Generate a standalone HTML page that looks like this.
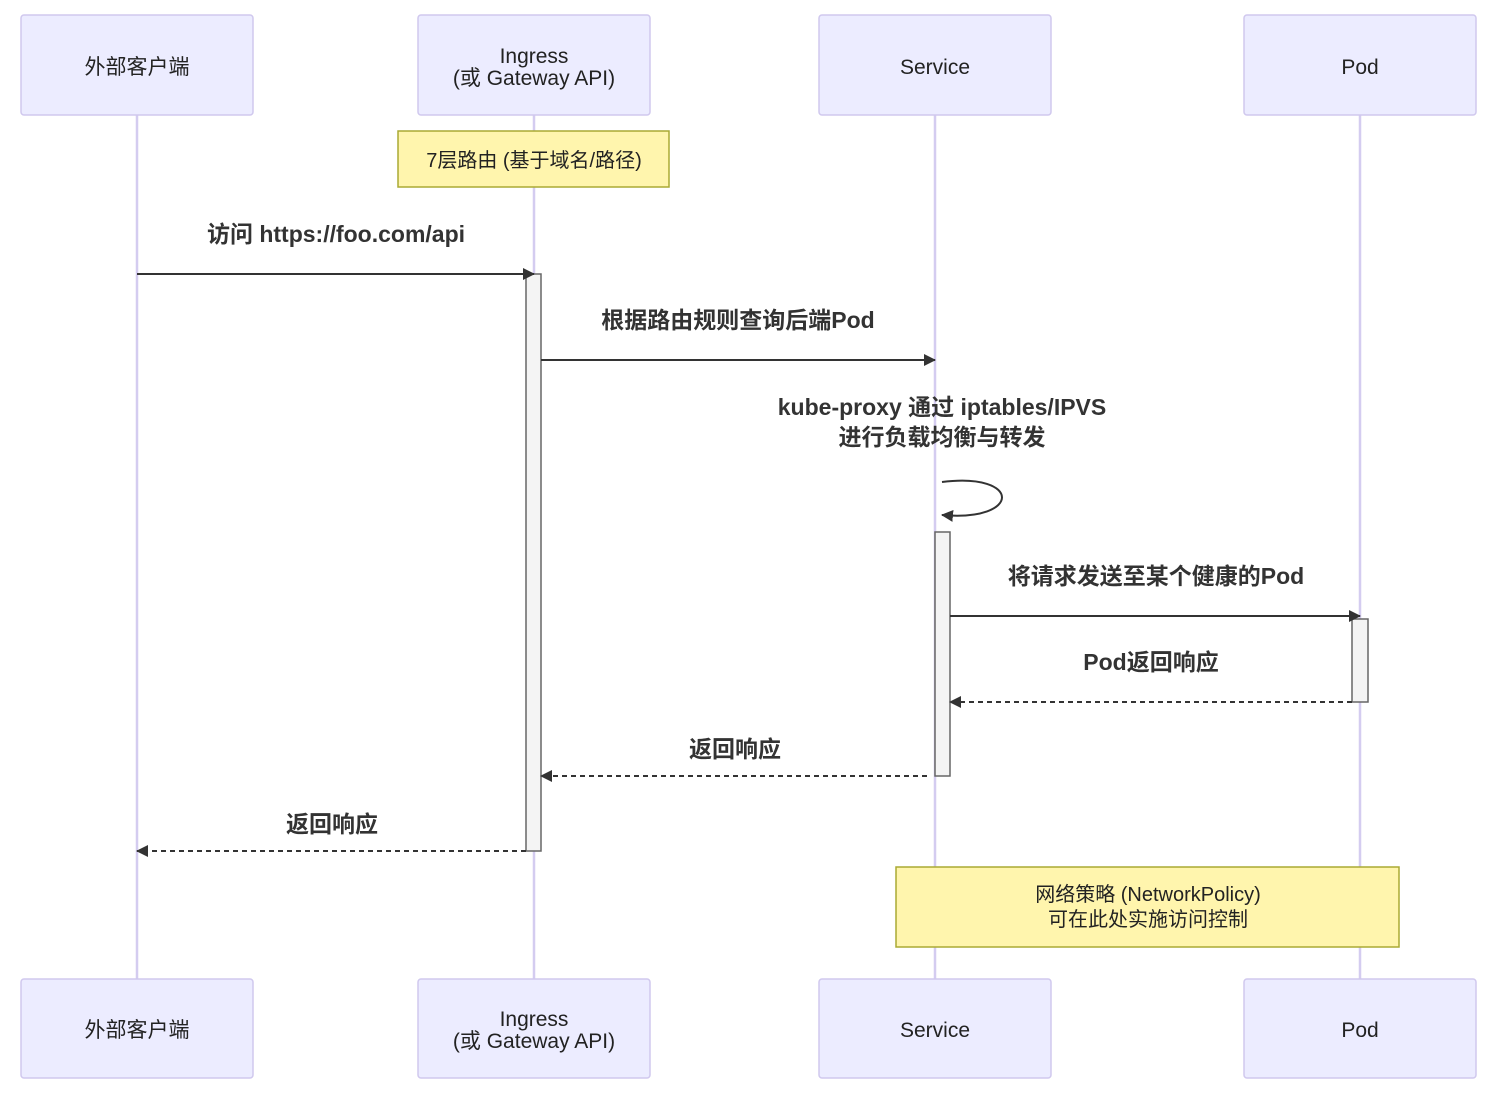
<!DOCTYPE html>
<html><head><meta charset="utf-8"><style>
html,body{margin:0;padding:0;background:#fff;}
svg text{font-family:"Liberation Sans","Noto Sans CJK SC",sans-serif;}
</style></head><body>
<svg width="1498" height="1094" viewBox="0 0 1498 1094" xmlns="http://www.w3.org/2000/svg">
<defs>
<marker id="ah" markerWidth="12" markerHeight="12" refX="11" refY="6" orient="auto" markerUnits="userSpaceOnUse">
<path d="M0,0 L12,6 L0,12 z" fill="#333"/>
</marker>
</defs>
<g stroke="#d4ccf0" stroke-width="2.5">
<line x1="137" y1="115" x2="137" y2="979"/>
<line x1="534" y1="115" x2="534" y2="979"/>
<line x1="935" y1="115" x2="935" y2="979"/>
<line x1="1360" y1="115" x2="1360" y2="979"/>
</g>
<g fill="#ececff" stroke="#d0c8ee" stroke-width="1.5">
<rect x="21" y="15" width="232" height="100" rx="3"/>
<rect x="418" y="15" width="232" height="100" rx="3"/>
<rect x="819" y="15" width="232" height="100" rx="3"/>
<rect x="1244" y="15" width="232" height="100" rx="3"/>
<rect x="21" y="979" width="232" height="99" rx="3"/>
<rect x="418" y="979" width="232" height="99" rx="3"/>
<rect x="819" y="979" width="232" height="99" rx="3"/>
<rect x="1244" y="979" width="232" height="99" rx="3"/>
</g>
<g font-size="21" fill="#222" text-anchor="middle">
<text x="137" y="74">外部客户端</text>
<text x="534" y="63">Ingress</text>
<text x="534" y="85">(或 Gateway API)</text>
<text x="935" y="74">Service</text>
<text x="1360" y="74">Pod</text>
<text x="137" y="1037">外部客户端</text>
<text x="534" y="1026">Ingress</text>
<text x="534" y="1048">(或 Gateway API)</text>
<text x="935" y="1037">Service</text>
<text x="1360" y="1037">Pod</text>
</g>
<rect x="398" y="131" width="271" height="56" fill="#fff5ad" stroke="#aaaa33" stroke-width="1.5"/>
<text x="534" y="167" font-size="20" text-anchor="middle" fill="#222">7层路由 (基于域名/路径)</text>
<g fill="#f4f4f4" stroke="#666" stroke-width="1.5">
<rect x="526" y="274" width="15" height="577"/>
<rect x="935" y="532" width="15" height="244"/>
<rect x="1352" y="619" width="16" height="83"/>
</g>
<g font-size="23" font-weight="bold" fill="#333" text-anchor="middle">
<text x="336" y="242">访问 https://foo.com/api</text>
<text x="738" y="328">根据路由规则查询后端Pod</text>
<text x="942" y="415">kube-proxy 通过 iptables/IPVS</text>
<text x="942" y="445">进行负载均衡与转发</text>
<text x="1156" y="584">将请求发送至某个健康的Pod</text>
<text x="1151" y="670">Pod返回响应</text>
<text x="735" y="757">返回响应</text>
<text x="332" y="832">返回响应</text>
</g>
<g stroke="#333" stroke-width="2" fill="none">
<line x1="137" y1="274" x2="534" y2="274" marker-end="url(#ah)"/>
<line x1="541" y1="360" x2="935" y2="360" marker-end="url(#ah)"/>
<path d="M942,482 C1022,472 1022,522 942,515" marker-end="url(#ah)"/>
<line x1="950" y1="616" x2="1360" y2="616" marker-end="url(#ah)"/>
<line x1="1352" y1="702" x2="950" y2="702" stroke-dasharray="5,4" marker-end="url(#ah)"/>
<line x1="927" y1="776" x2="541" y2="776" stroke-dasharray="5,4" marker-end="url(#ah)"/>
<line x1="526" y1="851" x2="137" y2="851" stroke-dasharray="5,4" marker-end="url(#ah)"/>
</g>
<rect x="896" y="867" width="503" height="80" fill="#fff5ad" stroke="#aaaa33" stroke-width="1.5"/>
<g font-size="20" fill="#222" text-anchor="middle">
<text x="1148" y="901">网络策略 (NetworkPolicy)</text>
<text x="1148" y="926">可在此处实施访问控制</text>
</g>
</svg>
</body></html>
